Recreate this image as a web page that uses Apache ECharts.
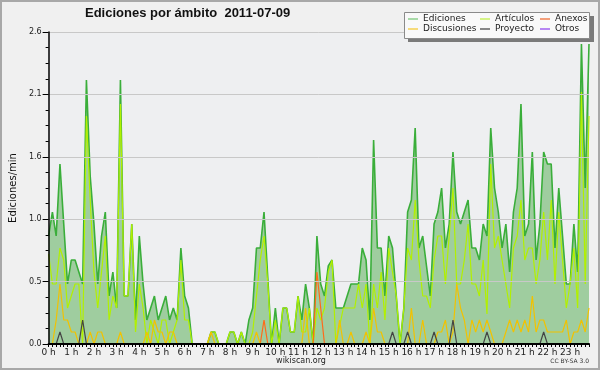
<!DOCTYPE html>
<html>
<head>
<meta charset="utf-8">
<script src="https://cdn.jsdelivr.net/npm/echarts@6/dist/echarts.min.js"></script>
<style>
html,body{margin:0;padding:0;background:#f0f0f0;}
#chart{width:600px;height:370px;}
</style>
</head>
<body>
<div id="chart"></div>
<script>
// ---- data (10-minute slots, 2011-07-09) ----
const hourLabels = ['0 h','1 h','2 h','3 h','4 h','5 h','6 h','7 h','8 h','9 h','10 h','11 h',
  '12 h','13 h','14 h','15 h','16 h','17 h','18 h','19 h','20 h','21 h','22 h','23 h'];
const seriesNames = ['Ediciones','Artículos','Anexos','Discusiones','Proyecto','Otros'];
const yTicks = [0, 0.52, 1.04, 1.56, 2.08, 2.6];

const ediciones = [
  0.9,1.1,0.9,1.5,1.0,0.5,0.7,0.7,0.6,0.5,2.2,1.4,
  1.0,0.5,0.9,1.1,0.4,0.6,0.3,2.2,0.4,0.4,1.0,0.2,
  0.9,0.5,0.2,0.3,0.4,0.2,0.3,0.4,0.2,0.3,0.2,0.8,
  0.4,0.3,0,0,0,0,0,0.1,0.1,0,0,0,
  0.1,0.1,0,0.1,0,0.2,0.3,0.8,0.8,1.1,0.55,0,
  0.3,0,0.3,0.3,0.1,0.1,0.4,0.2,0.5,0.3,0,0.9,
  0.5,0.4,0.65,0.7,0.3,0.3,0.3,0.4,0.5,0.5,0.5,0.8,
  0.7,0.2,1.7,0.8,0.8,0.4,0.9,0.8,0.4,0,0.3,1.1,
  1.2,1.8,0.8,0.9,0.65,0.4,1.0,1.1,1.3,0.8,1.0,1.6,
  1.1,1.0,1.1,1.2,0.8,0.8,0.7,1.0,0.9,1.8,1.3,1.1,
  0.8,1.0,0.6,1.1,1.3,2.0,0.9,1.0,1.6,0.7,1.0,1.6,
  1.5,1.5,0.8,1.3,0.9,0.5,0.5,1.0,0.6,2.5,1.3,2.5
];
const articulos = [
  0.75,0.5,0.5,0.8,0.7,0.3,0.4,0.5,0.5,0,1.9,1.2,
  0.6,0.3,0.6,0.9,0.2,0.4,0.3,2.0,0.4,0.4,1.0,0.1,
  0.5,0.3,0,0.2,0.1,0,0.2,0.2,0,0.1,0.2,0.7,
  0.2,0.2,0,0,0,0,0,0.1,0.1,0,0,0,
  0.1,0.1,0,0.1,0,0,0.1,0.4,0.7,0.9,0.5,0,
  0.2,0,0.3,0.3,0.1,0.1,0.4,0.1,0.1,0.3,0,0.3,
  0.2,0.3,0.6,0.7,0,0.15,0.3,0.3,0.3,0.3,0.5,0.3,
  0.5,0,0.5,0.3,0.6,0.2,0.8,0.6,0.4,0,0.3,0.8,
  0.7,1.2,0.7,0.4,0.4,0.3,0.7,0.9,0.9,0.5,0.9,1.3,
  0.5,0.5,0.7,1.0,0.5,0.5,0.4,0.7,0.25,1.5,0.8,0.9,
  0.7,0.5,0.3,0.8,0.9,1.2,0.7,0.8,0.8,0.5,0.7,1.1,
  0.7,1.2,0.5,1.1,0.7,0.3,0.5,0.8,0.3,2.1,0.5,1.9
];
const anexos = [
  0,0,0,0,0,0,0,0,0,0,0,0,
  0,0,0,0,0,0,0,0,0,0,0,0,
  0,0,0,0,0,0,0,0,0,0,0,0,
  0,0,0,0,0,0,0,0,0,0,0,0,
  0,0,0,0,0,0,0,0,0,0.2,0,0,
  0,0,0,0,0,0,0,0,0,0,0,0.6,
  0.3,0,0,0,0,0,0,0,0,0,0,0,
  0,0,0,0,0,0,0,0,0,0,0,0,
  0,0,0,0,0,0,0,0,0,0,0,0,
  0,0,0,0,0,0,0,0,0,0,0,0,
  0,0,0,0,0,0,0,0,0,0,0,0,
  0,0,0,0,0,0,0,0,0,0,0,0
];
const discusiones = [
  0,0,0.2,0.5,0.2,0.2,0.1,0.1,0,0,0,0.1,
  0,0.1,0.1,0,0,0,0,0.1,0,0,0,0,
  0,0,0.1,0,0.2,0.1,0.1,0,0.1,0.1,0,0,
  0,0,0,0,0,0,0,0.1,0,0,0,0,
  0,0,0,0,0,0,0,0.1,0,0,0,0,
  0,0,0,0,0,0,0,0,0.3,0,0,0,
  0,0,0,0,0,0.2,0,0,0.1,0,0,0,
  0.1,0,0.3,0.1,0.1,0,0,0,0,0,0,0,
  0.3,0,0,0.2,0,0,0,0.1,0.1,0.2,0,0.1,
  0.5,0.3,0.2,0,0.2,0.1,0.2,0.1,0.2,0.1,0,0,
  0,0.1,0.2,0.1,0.2,0.1,0.2,0.1,0.4,0.1,0.2,0.2,
  0.1,0.1,0.1,0.1,0.1,0.2,0,0.1,0.1,0.2,0.1,0.3
];
const proyecto = [
  0,0,0,0.1,0,0,0,0,0,0.2,0,0,
  0,0,0,0,0,0,0,0,0,0,0,0,
  0,0,0,0,0,0,0,0,0,0,0,0,
  0,0,0,0,0,0,0,0,0,0,0,0,
  0,0,0,0,0,0,0,0,0,0,0,0,
  0,0,0,0,0,0,0,0,0,0,0,0,
  0,0,0,0,0,0,0,0,0,0,0,0,
  0,0,0,0,0,0,0,0.1,0,0,0,0.1,
  0,0,0,0,0,0,0.1,0,0,0,0,0.2,
  0,0,0,0,0,0,0,0,0.1,0,0,0,
  0,0,0,0,0,0,0,0,0,0,0,0.1,
  0,0,0,0,0,0,0,0,0,0,0,0
];
const otros = [
  0,0,0,0,0,0,0,0,0,0,0,0,
  0,0,0,0,0,0,0,0,0,0,0,0,
  0,0,0,0,0,0,0,0,0,0,0,0,
  0,0,0,0,0,0,0,0,0,0,0,0,
  0,0,0,0,0,0,0,0,0,0,0,0,
  0,0,0,0,0,0,0,0,0,0,0,0,
  0,0,0,0,0,0,0,0,0,0,0,0,
  0,0,0,0,0,0,0,0,0,0,0,0,
  0,0,0,0,0,0,0,0,0,0,0,0,
  0,0,0,0,0,0,0,0,0,0,0,0,
  0,0,0,0,0,0,0,0,0,0,0,0,
  0,0,0,0,0,0,0,0,0,0,0,0
];

// 10-minute slot categories
const slots = [];
hourLabels.forEach(function (h) { for (let m = 0; m < 60; m += 10) slots.push(h + ' ' + m); });

const colors = {
  'Ediciones': '#3aae3a',
  'Artículos': '#b2f000',
  'Anexos': '#ff6a1a',
  'Discusiones': '#f2c200',
  'Proyecto': '#444444',
  'Otros': '#9040e0'
};
const legendColors = {
  'Ediciones': '#8ccf8c',
  'Artículos': '#c8f060',
  'Anexos': '#f08050',
  'Discusiones': '#f4d050',
  'Proyecto': '#606060',
  'Otros': '#a060f0'
};
const valuesByName = {
  'Ediciones': ediciones, 'Artículos': articulos, 'Anexos': anexos,
  'Discusiones': discusiones, 'Proyecto': proyecto, 'Otros': otros
};

const font = 'DejaVu Sans';
const legendPos = {
  'Ediciones': [408, 14], 'Artículos': [480, 14], 'Anexos': [540, 14],
  'Discusiones': [408, 24], 'Proyecto': [480, 24], 'Otros': [540, 24]
};
const legends = seriesNames.map(function (n) {
  return {
    data: [{ name: n, itemStyle: { color: legendColors[n] } }],
    left: legendPos[n][0], top: legendPos[n][1],
    padding: 0, itemGap: 0, icon: 'rect', itemWidth: 10, itemHeight: 1.5,
    selectedMode: false, z: 20,
    textStyle: { fontFamily: font, fontSize: 9, color: '#222', lineHeight: 10, padding: [0, 0, 0, 0] }
  };
});

const series = seriesNames.map(function (n, k) {
  const s = {
    name: n, type: 'line', data: valuesByName[n],
    symbol: 'none', animation: false, z: 3 + k,
    itemStyle: { color: colors[n] },
    lineStyle: { color: colors[n], width: n === 'Ediciones' ? 1.6 : 1.2 }
  };
  if (n === 'Ediciones') s.areaStyle = { color: '#9fcd9f', opacity: 1 };
  return s;
});

const chart = echarts.init(document.getElementById('chart'), null, { renderer: 'canvas' });
chart.setOption({
  animation: false,
  backgroundColor: '#f0f0f0',
  title: {
    text: 'Ediciones por ámbito  2011-07-09',
    left: 85, top: 7, padding: 0,
    textStyle: { fontFamily: 'Liberation Sans', fontWeight: 'bold', fontSize: 13, color: '#111' }
  },
  legend: legends,
  grid: { left: 46, right: 11, top: 32, bottom: 26, show: true, backgroundColor: '#eeeff1', borderWidth: 0 },
  xAxis: {
    type: 'category', data: slots, boundaryGap: false, z: 10,
    axisLine: { lineStyle: { color: '#000', width: 2 } },
    axisTick: { show: true, interval: 0, length: 3, lineStyle: { color: '#000', width: 1 } },
    axisLabel: {
      interval: function (i) { return i % 6 === 0; },
      formatter: function (v, i) { return hourLabels[i / 6]; },
      fontFamily: font, fontSize: 9, color: '#222', margin: 4
    },
    splitLine: { show: false }
  },
  yAxis: {
    type: 'value', min: yTicks[0], max: yTicks[yTicks.length - 1], interval: yTicks[1], z: 10,
    name: 'Ediciones/min', nameLocation: 'middle', nameGap: 30, nameRotate: 90,
    nameTextStyle: { fontFamily: font, fontSize: 10, color: '#111' },
    axisLine: { show: true, lineStyle: { color: '#000', width: 1.5 } },
    axisTick: { show: true, length: 6, lineStyle: { color: '#000' } },
    minorTick: { show: true, splitNumber: 4, length: 3, lineStyle: { color: '#000' } },
    axisLabel: {
      formatter: function (v) { return v.toFixed(1); },
      fontFamily: font, fontSize: 8, color: '#222', margin: 7
    },
    splitLine: { show: true, lineStyle: { color: '#c8c8c8', width: 1 } }
  },
  graphic: [
    { type: 'rect', z: -1, silent: true, shape: { x: 1, y: 1, width: 598, height: 368 },
      style: { fill: 'none', stroke: '#a8a8a8', lineWidth: 2 } },
    { type: 'rect', z: 15, silent: true, shape: { x: 408, y: 16, width: 186, height: 26 },
      style: { fill: '#7a7a7a' } },
    { type: 'rect', z: 16, silent: true, shape: { x: 404.5, y: 12.5, width: 185, height: 26 },
      style: { fill: '#f9f9f9', stroke: '#8a8a8a', lineWidth: 1 } },
    { type: 'text', z: 20, silent: true, style: { text: 'wikiscan.org', x: 301, y: 361, align: 'center', verticalAlign: 'middle',
      font: '8px "DejaVu Sans"', fill: '#222' } },
    { type: 'text', z: 20, silent: true, style: { text: 'CC BY-SA 3.0', x: 589, y: 361, align: 'right', verticalAlign: 'middle',
      font: '6px "DejaVu Sans"', fill: '#333' } }
  ],
  series: series
});
</script>
</body>
</html>
